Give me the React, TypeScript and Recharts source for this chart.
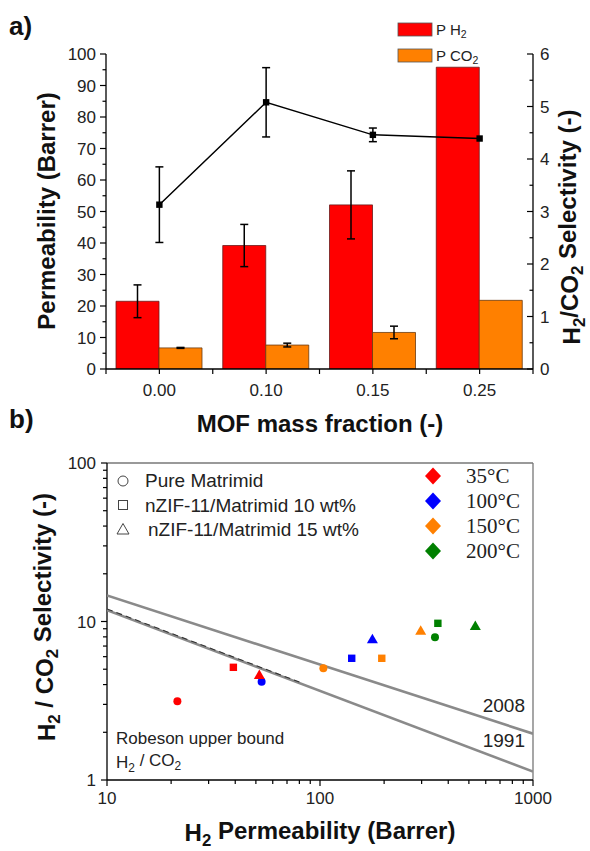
import React from 'react';
import {
  ComposedChart, ScatterChart, Bar, Line, Scatter, XAxis, YAxis, ErrorBar, ReferenceLine,
} from 'recharts';

// ---- panel a: permeability bars + selectivity line ----
const fractions = ['0.00', '0.10', '0.15', '0.25'];
const permH2 = [21.5, 39.2, 52.1, 95.8];
const permH2Err = [5.2, 6.7, 10.8, 0];
const permCO2 = [6.7, 7.6, 11.6, 21.8];
const permCO2Err = [0.15, 0.6, 2.0, 0];
const selectivity = [3.13, 5.08, 4.46, 4.39];
const selectivityErr = [0.72, 0.66, 0.13, 0];
const permTicks = [0, 5, 10, 15, 20, 25, 30, 35, 40, 45, 50, 55, 60, 65, 70, 75, 80, 85, 90, 95, 100];
const selTicks = [0, 0.5, 1, 1.5, 2, 2.5, 3, 3.5, 4, 4.5, 5, 5.5, 6];

// ---- panel b: Robeson plot ----
const temperatures = ['35°C', '100°C', '150°C', '200°C'];
const pureP = [21.4, 53.2, 103.7, 346.6];
const pureSel = [3.14, 4.17, 5.07, 7.95];
const zif10P = [39.2, 140.9, 195, 357.6];
const zif10Sel = [5.14, 5.86, 5.86, 9.74];
const zif15P = [51.9, 176.2, 297, 536];
const zif15Sel = [4.6, 7.72, 8.75, 9.37];
const robP = [10, 1000];
const rob1991Sel = [11.8, 1.13];
const rob2008Sel = [14.6, 1.96];
const dashP = [10, 80];
const dashSel = [12.0, 4.15];
const xTicksB = [10, 20, 30, 40, 50, 60, 70, 80, 90, 100, 200, 300, 400, 500, 600, 700, 800, 900, 1000];
const yTicksB = [1, 2, 3, 4, 5, 6, 7, 8, 9, 10, 20, 30, 40, 50, 60, 70, 80, 90, 100];

const tempColors = ['#ff0000', '#0000ff', '#ff8000', '#008000'];

const dataA = fractions.map((f, i) => ({
  fraction: f,
  h2: permH2[i],
  h2Err: permH2Err[i],
  co2: permCO2[i],
  co2Err: permCO2Err[i],
  sel: selectivity[i],
  selErr: selectivityErr[i],
}));

const toPoints = (xs: number[], ys: number[]) => xs.map((x, i) => ({ x, y: ys[i], t: i }));

const SANS = '"Liberation Sans", Arial, sans-serif';
const SERIF = '"Liberation Serif", "Times New Roman", serif';
const BAND = (533 - 106) / fractions.length;
const TICK_FS = 17;

const PermTick = ({ x, y, payload }: any) => {
  const v = payload.value;
  const major = v % 10 === 0;
  return (
    <g>
      <line x1={x} x2={x - (major ? 6 : 3.5)} y1={y} y2={y} stroke="#000" strokeWidth={1.2} />
      {major && (
        <text x={x - 10} y={y} dy="0.36em" textAnchor="end" fontSize={TICK_FS} fill="#222" fontFamily={SANS}>
          {v}
        </text>
      )}
    </g>
  );
};

const SelTick = ({ x, y, payload }: any) => {
  const v = payload.value;
  const major = Number.isInteger(v);
  return (
    <g>
      <line x1={x} x2={x - (major ? 6 : 3.5)} y1={y} y2={y} stroke="#000" strokeWidth={1.2} />
      {major && (
        <text x={x + 7} y={y} dy="0.36em" textAnchor="start" fontSize={TICK_FS} fill="#222" fontFamily={SANS}>
          {v}
        </text>
      )}
    </g>
  );
};

const CatTick = ({ x, y, payload, index }: any) => (
  <g>
    <line x1={x} x2={x} y1={y} y2={y + 5} stroke="#000" strokeWidth={1.2} />
    <line x1={x - BAND / 2} x2={x - BAND / 2} y1={y} y2={y + 5} stroke="#000" strokeWidth={1.2} />
    {index === fractions.length - 1 && (
      <line x1={x + BAND / 2} x2={x + BAND / 2} y1={y} y2={y + 5} stroke="#000" strokeWidth={1.2} />
    )}
    <text x={x} y={y + 27} textAnchor="middle" fontSize={TICK_FS} fill="#222" fontFamily={SANS}>
      {payload.value}
    </text>
  </g>
);

const isDecade = (v: number) => Math.abs(Math.log10(v) - Math.round(Math.log10(v))) < 1e-9;

const LogXTick = ({ x, y, payload }: any) => {
  const v = payload.value;
  const major = isDecade(v);
  return (
    <g>
      <line x1={x} x2={x} y1={y} y2={y + (major ? 6 : 4)} stroke="#000" strokeWidth={1.2} />
      {major && (
        <text x={x} y={y + 24} textAnchor="middle" fontSize={TICK_FS} fill="#222" fontFamily={SANS}>
          {v}
        </text>
      )}
    </g>
  );
};

const LogYTick = ({ x, y, payload }: any) => {
  const v = payload.value;
  const major = isDecade(v);
  return (
    <g>
      <line x1={x} x2={x - (major ? 6 : 4)} y1={y} y2={y} stroke="#000" strokeWidth={1.2} />
      {major && (
        <text x={x - 11} y={y} dy="0.36em" textAnchor="end" fontSize={TICK_FS} fill="#222" fontFamily={SANS}>
          {v}
        </text>
      )}
    </g>
  );
};

const SquareDot = (props: any) => {
  const { cx, cy, index } = props;
  return <rect key={`d${index}`} x={cx - 3.2} y={cy - 3.2} width={6.4} height={6.4} fill="#000" />;
};

const Marker = ({ cx, cy, kind, color }: any) => {
  if (kind === 'circle') return <circle cx={cx} cy={cy} r={4} fill={color} />;
  if (kind === 'square') return <rect x={cx - 3.7} y={cy - 3.7} width={7.4} height={7.4} fill={color} />;
  return <polygon points={`${cx},${cy - 5.5} ${cx + 5.5},${cy + 4} ${cx - 5.5},${cy + 4}`} fill={color} />;
};

const shapeOf = (kind: string) => (props: any) => (
  <Marker cx={props.cx} cy={props.cy} kind={kind} color={tempColors[props.payload.t]} />
);
const NoShape = () => <g />;

const Sub = ({ children }: any) => (
  <tspan dy="0.3em" fontSize="0.7em">{children}</tspan>
);

export default function App() {
  const titleStyle = { fontFamily: SANS, fontWeight: 700, fontSize: 24, fill: '#111' } as const;
  return (
    <div style={{ position: 'absolute', left: 0, top: 0, width: 590, height: 851, background: '#fff' }}>
      <div style={{ position: 'absolute', left: 0, top: 0 }}>
        <ComposedChart width={590} height={440} data={dataA} barGap={0}
          margin={{ top: 54, right: 0, bottom: 41, left: 0 }}>
          <XAxis dataKey="fraction" height={30} tickSize={0} tickMargin={0} tick={CatTick} interval={0}
            axisLine={{ stroke: '#000', strokeWidth: 1.3 }} tickLine={false} />
          <YAxis yAxisId="left" width={106} domain={[0, 100]} ticks={permTicks} interval={0} allowDataOverflow
            tickSize={0} tickMargin={0} tick={PermTick} tickLine={false} axisLine={{ stroke: '#000', strokeWidth: 1.3 }} />
          <YAxis yAxisId="right" orientation="right" width={57} domain={[0, 6]} ticks={selTicks} interval={0}
            allowDataOverflow tickSize={0} tickMargin={0} tick={SelTick} tickLine={false}
            axisLine={{ stroke: '#000', strokeWidth: 1.3 }} />
          <Bar yAxisId="left" dataKey="h2" fill="#ff0000" stroke="#6a1a1a" strokeWidth={0.8} barSize={43}
            isAnimationActive={false}>
            <ErrorBar dataKey="h2Err" width={4} stroke="#000" strokeWidth={1.5} />
          </Bar>
          <Bar yAxisId="left" dataKey="co2" fill="#ff8000" stroke="#6a3a10" strokeWidth={0.8} barSize={43}
            isAnimationActive={false}>
            <ErrorBar dataKey="co2Err" width={4} stroke="#000" strokeWidth={1.5} />
          </Bar>
          <Line yAxisId="right" dataKey="sel" stroke="#000" strokeWidth={1.5} dot={SquareDot} activeDot={false}
            isAnimationActive={false}>
            <ErrorBar dataKey="selErr" width={4} stroke="#000" strokeWidth={1.5} />
          </Line>
        </ComposedChart>
      </div>

      <div style={{ position: 'absolute', left: 0, top: 440 }}>
        <ScatterChart width={590} height={411} margin={{ top: 23, right: 57, bottom: 41, left: 0 }}>
          <XAxis type="number" dataKey="x" scale="log" domain={[10, 1000]} ticks={xTicksB} interval={0}
            allowDataOverflow height={30} tickSize={0} tickMargin={0} tick={LogXTick} tickLine={false}
            axisLine={{ stroke: '#000', strokeWidth: 1.3 }} />
          <YAxis type="number" dataKey="y" scale="log" domain={[1, 100]} ticks={yTicksB} interval={0}
            allowDataOverflow width={107} tickSize={0} tickMargin={0} tick={LogYTick} tickLine={false}
            axisLine={{ stroke: '#000', strokeWidth: 1.3 }} />
          <ReferenceLine y={100} stroke="#777" strokeWidth={1.3} />
          <ReferenceLine x={1000} stroke="#777" strokeWidth={1.3} />
          <Scatter data={toPoints(robP, rob2008Sel)} line={{ stroke: '#8a8a8a', strokeWidth: 2.6 }}
            shape={NoShape} isAnimationActive={false} />
          <Scatter data={toPoints(robP, rob1991Sel)} line={{ stroke: '#8a8a8a', strokeWidth: 2.6 }}
            shape={NoShape} isAnimationActive={false} />
          <Scatter data={toPoints(dashP, dashSel)}
            line={{ stroke: '#333', strokeWidth: 1.1, strokeDasharray: '6 4' }}
            shape={NoShape} isAnimationActive={false} />
          <Scatter data={toPoints(pureP, pureSel)} shape={shapeOf('circle')} isAnimationActive={false} />
          <Scatter data={toPoints(zif10P, zif10Sel)} shape={shapeOf('square')} isAnimationActive={false} />
          <Scatter data={toPoints(zif15P, zif15Sel)} shape={shapeOf('triangle')} isAnimationActive={false} />
        </ScatterChart>
      </div>

      <svg width={590} height={851} style={{ position: 'absolute', left: 0, top: 0, pointerEvents: 'none' }}>
        {/* panel letters */}
        <text x={9} y={35} fontSize={26} fontWeight={700} fontFamily={SANS} fill="#111">a)</text>
        <text x={9} y={428} fontSize={26} fontWeight={700} fontFamily={SANS} fill="#111">b)</text>

        {/* panel a legend */}
        <rect x={398} y={23} width={34} height={13} fill="#ff0000" stroke="#555" strokeWidth={0.8} />
        <rect x={398} y={49} width={34} height={13} fill="#ff8000" stroke="#555" strokeWidth={0.8} />
        <text x={436} y={35} fontSize={15} fontFamily={SANS} fill="#222">P H<Sub>2</Sub></text>
        <text x={436} y={61} fontSize={15} fontFamily={SANS} fill="#222">P CO<Sub>2</Sub></text>

        {/* panel a titles */}
        <text transform="translate(55,211) rotate(-90)" textAnchor="middle" {...titleStyle}>
          Permeability (Barrer)
        </text>
        <text transform="translate(580,227) rotate(-90)" textAnchor="middle" {...titleStyle}>
          H<Sub>2</Sub><tspan dy="-0.3em">/CO</tspan><Sub>2</Sub><tspan dy="-0.3em"> Selectivity (-)</tspan>
        </text>
        <text x={320} y={432} textAnchor="middle" {...titleStyle}>MOF mass fraction (-)</text>

        {/* panel b titles */}
        <text transform="translate(55,617) rotate(-90)" textAnchor="middle" {...titleStyle}>
          H<Sub>2</Sub><tspan dy="-0.3em"> / CO</tspan><Sub>2</Sub><tspan dy="-0.3em"> Selectivity (-)</tspan>
        </text>
        <text x={320} y={841} textAnchor="middle" {...titleStyle}>
          H<Sub>2</Sub><tspan dy="-0.3em"> Permeability (Barrer)</tspan>
        </text>

        {/* panel b material legend */}
        <circle cx={123} cy={481} r={5} fill="none" stroke="#444" strokeWidth={1} />
        <rect x={118.5} y={500.5} width={9} height={9} fill="none" stroke="#444" strokeWidth={1} />
        <polygon points="123,523.5 129,534 117,534" fill="none" stroke="#444" strokeWidth={1} />
        <text x={145} y={487} fontSize={19} fontFamily={SANS} fill="#222">Pure Matrimid</text>
        <text x={145} y={512} fontSize={19} fontFamily={SANS} fill="#222">nZIF-11/Matrimid 10 wt%</text>
        <text x={148} y={536} fontSize={19} fontFamily={SANS} fill="#222">nZIF-11/Matrimid 15 wt%</text>

        {/* panel b temperature legend */}
        {temperatures.map((t, i) => {
          const cy = 476 + i * 25;
          return (
            <g key={t}>
              <polygon points={`433,${cy - 8.5} 441,${cy} 433,${cy + 8.5} 425,${cy}`} fill={tempColors[i]} />
              <text x={466} y={cy + 7} fontSize={21} fontFamily={SERIF} fill="#222">{t}</text>
            </g>
          );
        })}

        {/* Robeson annotations */}
        <text x={525} y={712} textAnchor="end" fontSize={19} fontFamily={SANS} fill="#222">2008</text>
        <text x={525} y={747} textAnchor="end" fontSize={19} fontFamily={SANS} fill="#222">1991</text>
        <text x={116} y={744} fontSize={17} fontFamily={SANS} fill="#222">Robeson upper bound</text>
        <text x={116} y={768} fontSize={17} fontFamily={SANS} fill="#222">H<Sub>2</Sub><tspan dy="-0.3em"> / CO</tspan><Sub>2</Sub></text>
      </svg>
    </div>
  );
}
